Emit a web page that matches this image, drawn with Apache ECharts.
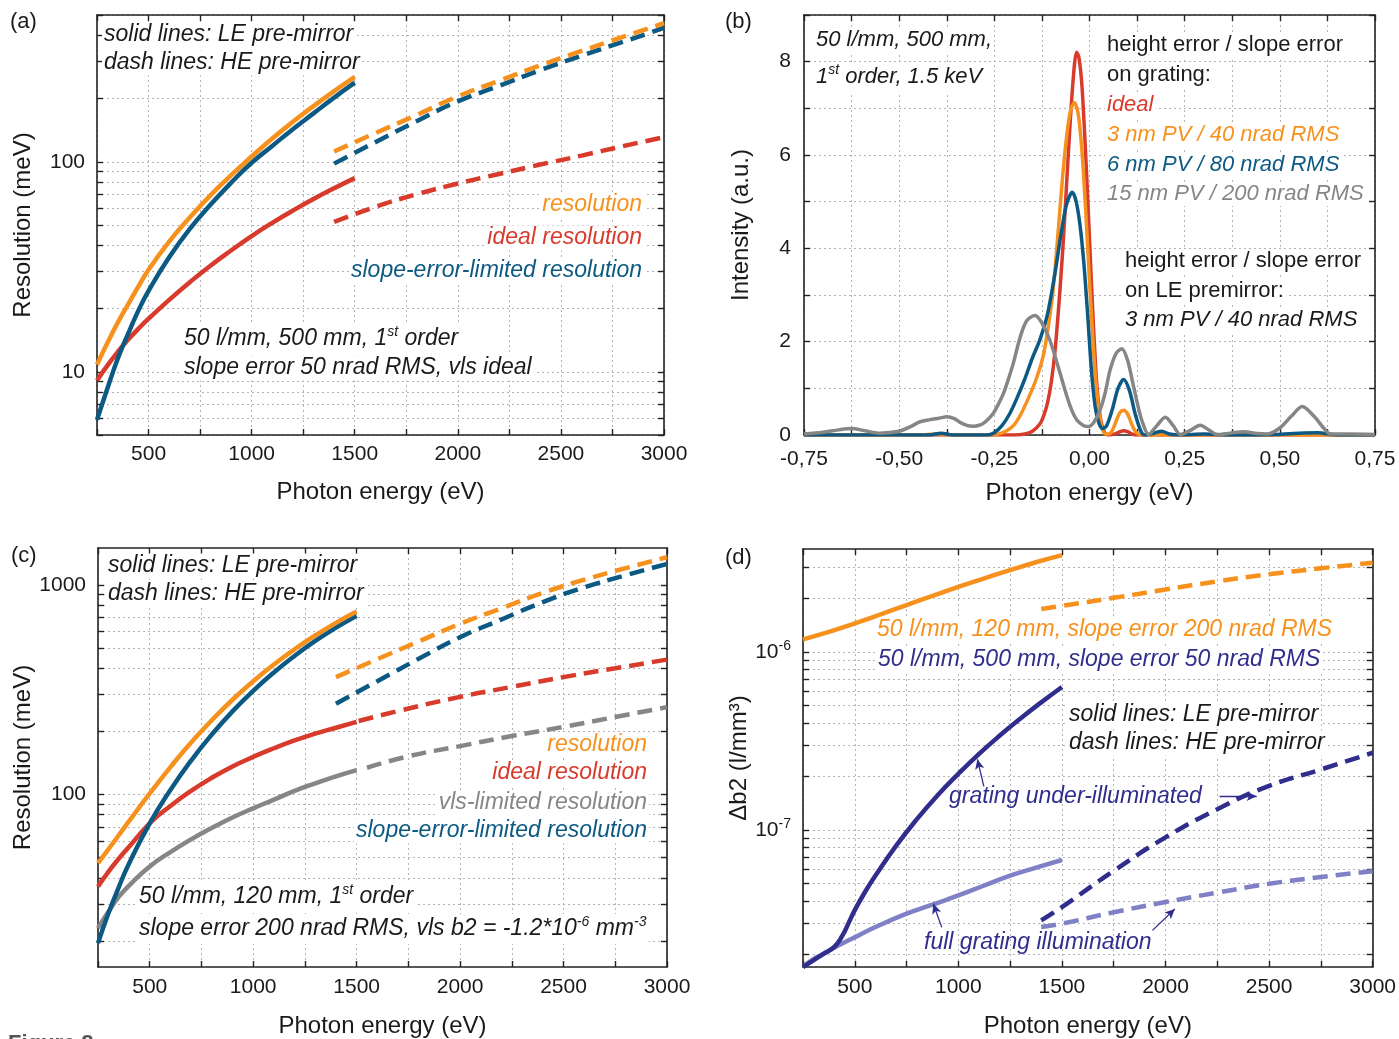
<!DOCTYPE html>
<html><head><meta charset="utf-8">
<script src="https://cdn.jsdelivr.net/npm/echarts@6/dist/echarts.min.js"></script>
<style>html,body{margin:0;padding:0;background:#fff}#c{width:1399px;height:1039px}</style>
</head><body><div id="c"></div>
<script>
// ---------------- DATA ----------------
// Panel (a): 50 l/mm, 500 mm
const aEnergyLE = [250,300,350,400,450,500,600,700,800,900,1000,1100,1200,1300,1400,1500];
const aResolutionLE = [10.8,13.7,17.1,20.9,25.4,30.6,41.7,54.3,69.2,86.1,106,129,155,184,217,254];
const aIdealLE = [9.1,10.7,12.4,14.2,16.0,17.9,22.0,26.7,32.0,37.8,44.3,51.2,58.6,66.5,74.8,83.6];
const aSlopeLE = [5.9,8.3,11.5,15.1,19.5,24.3,35.1,47.9,62.4,79.4,98.9,119,143,170,202,238];
const aEnergyHE = [1400,1600,1800,2000,2200,2400,2600,2800,3000];
const aResolutionHE = [112,137,167,205,243,288,337,393,457];
const aIdealHE = [51.7,61,70,78.8,87.5,97,107,118.6,131];
const aSlopeHE = [98,124,156,194,230,273,320,372,434];

// Panel (b): line profiles at 1.5 keV
const bIdealX = [-0.75,-0.2,-0.17,-0.15,-0.13,-0.12,-0.11,-0.1,-0.09,-0.08,-0.07,-0.06,-0.05,-0.04,-0.034,-0.028,-0.02,-0.01,0,0.01,0.02,0.03,0.04,0.05,0.065,0.08,0.09,0.1,0.115,0.13,0.75];
const bIdealY = [0,0,0.02,0.08,0.24,0.42,0.7,1.15,1.85,2.85,4.0,5.4,6.8,7.9,8.2,8.1,7.5,6.0,4.2,2.4,1.0,0.3,0.05,0,0.02,0.07,0.09,0.07,0.01,0,0];
const bErr3X = [-0.75,-0.45,-0.4,-0.36,-0.26,-0.24,-0.22,-0.2,-0.18,-0.16,-0.14,-0.12,-0.1,-0.09,-0.08,-0.07,-0.06,-0.05,-0.04,-0.03,-0.02,-0.01,0,0.01,0.02,0.03,0.04,0.05,0.06,0.07,0.08,0.09,0.1,0.11,0.12,0.13,0.14,0.75];
const bErr3Y = [0,0,0.02,0,0,0.02,0.08,0.2,0.45,0.8,1.2,1.75,2.8,3.6,4.6,5.6,6.4,6.95,7.12,6.9,6.1,4.8,3.3,1.9,0.85,0.25,0.03,0.02,0.1,0.3,0.48,0.53,0.45,0.25,0.08,0.01,0,0];
const bErr6X = [-0.75,-0.42,-0.39,-0.36,-0.27,-0.25,-0.23,-0.21,-0.19,-0.17,-0.15,-0.13,-0.11,-0.09,-0.075,-0.06,-0.045,-0.035,-0.025,-0.015,-0.005,0.005,0.015,0.025,0.035,0.045,0.06,0.075,0.09,0.105,0.12,0.135,0.145,0.165,0.19,0.21,0.24,0.3,0.36,0.45,0.55,0.6,0.65,0.75];
const bErr6Y = [0,0,0.04,0,0,0.05,0.2,0.45,0.8,1.2,1.65,2.05,2.6,3.5,4.3,4.95,5.2,5.0,4.5,3.7,2.6,1.4,0.6,0.25,0.14,0.2,0.55,1.0,1.19,0.95,0.45,0.08,0,0.03,0.08,0.02,0,0.02,0,0,0.04,0.05,0,0];
const bErr15X = [-0.75,-0.7,-0.66,-0.625,-0.59,-0.551,-0.5,-0.47,-0.446,-0.419,-0.395,-0.375,-0.355,-0.34,-0.32,-0.305,-0.29,-0.279,-0.265,-0.253,-0.24,-0.226,-0.213,-0.2,-0.182,-0.165,-0.143,-0.125,-0.104,-0.08,-0.059,-0.045,-0.033,-0.015,-0.003,0.012,0.028,0.041,0.054,0.07,0.085,0.1,0.116,0.128,0.138,0.155,0.175,0.199,0.22,0.239,0.265,0.291,0.315,0.335,0.37,0.405,0.44,0.467,0.5,0.53,0.559,0.59,0.615,0.633,0.68,0.75];
const bErr15Y = [0.02,0.06,0.11,0.14,0.09,0.04,0.08,0.18,0.28,0.33,0.36,0.39,0.35,0.27,0.2,0.19,0.21,0.25,0.35,0.46,0.65,0.89,1.2,1.54,2.1,2.45,2.56,2.4,2.03,1.4,0.82,0.5,0.32,0.2,0.18,0.28,0.54,0.9,1.39,1.75,1.85,1.6,1.03,0.6,0.3,0.01,0.18,0.38,0.2,0.01,0.1,0.21,0.1,0.01,0.04,0.07,0.03,0.02,0.15,0.4,0.61,0.4,0.15,0.02,0.02,0.01];

// Panel (c): 50 l/mm, 120 mm
const cEnergyLE = [250,300,350,400,500,600,700,800,900,1000,1100,1200,1300,1400,1500];
const cResolutionLE = [47,54.7,63.8,74.5,101,135,177,226,283,347,417,493,574,659,746];
const cIdealLE = [36.3,42.7,49.3,56.2,72.8,88.1,104,120,136,151,166,181,195,208,222];
const cVlsLE = [23,27.5,32.4,36.7,45.3,53,61,69.2,77.6,85.8,94.4,104,113,122,130.6];
const cSlopeLE = [19.5,27,36,46.8,72.8,105,145,193,249,312,382,458,540,625,713];
const cEnergyHE = [1400,1600,1800,2000,2200,2400,2600,2800,3000];
const cResolutionHE = [363,442,537,652,773,916,1059,1202,1355];
const cSlopeHE = [271,347,444,563,684,828,973,1112,1259];
const cEnergyIdealHE = [1510,1700,2000,2250,2500,2750,3000];
const cIdealHE = [224,250,292,326,363,400,440];
const cEnergyVlsHE = [1550,1750,2000,2250,2500,2750,3000];
const cVlsHE = [134,152,170,190,210,234,261];

// Panel (d): delta b2
const dEnergyOrangeLE = [250,375,500,625,750,875,1000,1125,1250,1375,1500];
const dOrangeLE = [1.18e-6,1.3e-6,1.45e-6,1.63e-6,1.84e-6,2.07e-6,2.33e-6,2.6e-6,2.89e-6,3.2e-6,3.51e-6];
const dEnergyUnderLE = [250,300,350,400,440,470,500,550,600,700,800,900,1000,1100,1200,1300,1400,1500];
const dUnderLE = [1.7e-8,1.85e-8,2.02e-8,2.2e-8,2.55e-8,3.0e-8,3.55e-8,4.5e-8,5.55e-8,8.17e-8,1.153e-7,1.57e-7,2.07e-7,2.68e-7,3.4e-7,4.24e-7,5.22e-7,6.37e-7];
const dEnergyFullLE = [250,300,350,400,500,600,750,875,1000,1125,1250,1375,1500];
const dFullLE = [1.7e-8,1.88e-8,2.02e-8,2.18e-8,2.5e-8,2.85e-8,3.39e-8,3.81e-8,4.29e-8,4.88e-8,5.55e-8,6.15e-8,6.79e-8];
const dEnergyHE = [1400,1500,1750,2000,2250,2500,2750,3000];
const dOrangeHE = [1.75e-6,1.82e-6,2.02e-6,2.25e-6,2.5e-6,2.74e-6,2.96e-6,3.18e-6];
const dUnderHE = [3.11e-8,3.69e-8,5.9e-8,9.1e-8,1.31e-7,1.77e-7,2.19e-7,2.72e-7];
const dFullHE = [2.85e-8,2.98e-8,3.45e-8,3.94e-8,4.45e-8,4.99e-8,5.45e-8,5.87e-8];
// annotation arrows in panel (d): [fromE, fromV, toE, toV]
const dArrows = [[1123,1.76e-7,1092,2.5e-7],[2261,1.55e-7,2440,1.55e-7],[920,2.84e-8,879,3.85e-8],[1937,2.73e-8,2045,3.6e-8]];

// ---------------- STYLE ----------------
const FONT = '"Liberation Sans", Arial, Helvetica, sans-serif';
const COL = {orange:'#f7911e', red:'#d83a2b', blue:'#0c5a83', gray:'#868686', indigo:'#302d8d', lilac:'#8080c6', ink:'#1a1a1a'};
const GRIDLINE = {show:true, lineStyle:{color:'#b4b4b4', type:[2,3], width:1}};
const AXLINE = {show:true, onZero:false, lineStyle:{color:'#222', width:1.6}};

const grids = [
  {left:97, top:15, width:567, height:420},
  {left:804, top:15, width:571, height:420},
  {left:98, top:548, width:569, height:419},
  {left:803, top:549, width:570, height:420}
];

function logGridValues(min, max) {
  const out = [];
  for (let p = Math.floor(Math.log10(min)); p <= Math.ceil(Math.log10(max)); p++) {
    for (let k = 1; k <= 9; k++) {
      const v = +(k * Math.pow(10, p)).toPrecision(6);
      if (v >= min * 0.9999 && v <= max * 1.0001) out.push(v);
    }
  }
  return out;
}
function majors(min, max) {
  return logGridValues(min, max).filter(v => Math.abs(Math.log10(v) - Math.round(Math.log10(v))) < 1e-9);
}

function xPair(gi, min, max, interval, fmt, margin, nameGap) {
  return [
    {type:'value', gridIndex:gi, min, max, interval, position:'bottom',
     name:'Photon energy (eV)', nameLocation:'middle', nameGap:nameGap,
     nameTextStyle:{fontSize:24, fontFamily:FONT, color:COL.ink},
     axisLine:AXLINE, axisTick:{show:true, inside:true, length:6, lineStyle:{color:'#222', width:1.4}},
     axisLabel:{formatter:fmt, fontSize:21, fontFamily:FONT, color:COL.ink, margin:margin, showMinLabel:true, showMaxLabel:true},
     splitLine:GRIDLINE},
    {type:'value', gridIndex:gi, min, max, interval, position:'top',
     axisLine:AXLINE, axisTick:{show:true, inside:true, length:6, lineStyle:{color:'#222', width:1.4}},
     axisLabel:{show:false}, splitLine:{show:false}}
  ];
}
function yLogPair(gi, min, max, name, nameGap, fmt, rich) {
  const gv = logGridValues(min, max);
  return [
    {type:'log', logBase:10, gridIndex:gi, min, max, position:'left',
     name, nameLocation:'middle', nameGap, nameRotate:90,
     nameTextStyle:{fontSize:24, fontFamily:FONT, color:COL.ink},
     axisLine:AXLINE, axisTick:{show:true, inside:true, length:6, customValues:gv, lineStyle:{color:'#222', width:1.4}},
     axisLabel:{customValues:majors(min, max), formatter:fmt, fontSize:21, fontFamily:FONT, color:COL.ink, margin:12, rich:rich},
     splitLine:GRIDLINE},
    {type:'log', logBase:10, gridIndex:gi, min, max, position:'right',
     axisLine:AXLINE, axisTick:{show:true, inside:true, length:6, customValues:gv, lineStyle:{color:'#222', width:1.4}},
     axisLabel:{show:false}, splitLine:{show:false}}
  ];
}

const fmtEnergy = v => (v % 500 === 0 ? String(v) : '');
const fmtShift = v => { const q = v * 4; return Math.abs(q - Math.round(q)) < 1e-6 ? v.toFixed(2).replace('.', ',') : ''; };
const fmtInt = v => String(Math.round(v));
const fmtPow = v => '{b|10}{s|' + Math.round(Math.log10(v)) + '}';

const xAxes = [].concat(
  xPair(0, 250, 3000, 250, fmtEnergy, 9, 45),
  xPair(1, -0.75, 0.75, 0.125, fmtShift, 14, 46),
  xPair(2, 250, 3000, 250, fmtEnergy, 10, 47),
  xPair(3, 250, 3000, 250, fmtEnergy, 10, 47)
);
const yAxes = [].concat(
  yLogPair(0, 5, 500, 'Resolution (meV)', 62, fmtInt),
  [
    {type:'value', gridIndex:1, min:0, max:9, interval:1, position:'left',
     name:'Intensity (a.u.)', nameLocation:'middle', nameGap:51, nameRotate:90,
     nameTextStyle:{fontSize:24, fontFamily:FONT, color:COL.ink},
     axisLine:AXLINE, axisTick:{show:true, inside:true, length:6, lineStyle:{color:'#222', width:1.4}},
     axisLabel:{formatter:v => (v % 2 === 0 ? String(v) : ''), fontSize:21, fontFamily:FONT, color:COL.ink, margin:13},
     splitLine:GRIDLINE},
    {type:'value', gridIndex:1, min:0, max:9, interval:1, position:'right',
     axisLine:AXLINE, axisTick:{show:true, inside:true, length:6, lineStyle:{color:'#222', width:1.4}},
     axisLabel:{show:false}, splitLine:{show:false}}
  ],
  yLogPair(2, 15, 1500, 'Resolution (meV)', 63, fmtInt),
  yLogPair(3, 1.7e-8, 3.8e-6, 'Δb2 (l/mm³)', 49, fmtPow, {
    b:{fontSize:21, fontFamily:FONT, color:COL.ink, lineHeight:26, verticalAlign:'middle'},
    s:{fontSize:14, fontFamily:FONT, color:COL.ink, lineHeight:14, verticalAlign:'top'}
  })
);

function curve(xs, ys, color, dashed, panel, width, smooth) {
  return {type:'line', xAxisIndex:panel*2, yAxisIndex:panel*2,
    data:xs.map((x, i) => [x, ys[i]]), showSymbol:false, symbol:'none',
    smooth:(smooth == null ? 0.5 : smooth), silent:true, z:3,
    lineStyle:{color, width:(width || 4.5), type:(dashed ? [15, 8] : 'solid'), cap:'butt'}};
}

const series = [
  // (a)
  curve(aEnergyLE, aIdealLE, COL.red, false, 0),
  curve(aEnergyLE, aSlopeLE, COL.blue, false, 0),
  curve(aEnergyLE, aResolutionLE, COL.orange, false, 0),
  curve(aEnergyHE, aIdealHE, COL.red, true, 0),
  curve(aEnergyHE, aSlopeHE, COL.blue, true, 0),
  curve(aEnergyHE, aResolutionHE, COL.orange, true, 0),
  // (b)
  curve(bIdealX, bIdealY, COL.red, false, 1, 3.5, 0.3),
  curve(bErr3X, bErr3Y, COL.orange, false, 1, 3.5, 0.3),
  curve(bErr6X, bErr6Y, COL.blue, false, 1, 3.5, 0.3),
  curve(bErr15X, bErr15Y, COL.gray, false, 1, 3.5, 0.3),
  // (c)
  curve(cEnergyLE, cVlsLE, COL.gray, false, 2),
  curve(cEnergyLE, cIdealLE, COL.red, false, 2),
  curve(cEnergyLE, cSlopeLE, COL.blue, false, 2),
  curve(cEnergyLE, cResolutionLE, COL.orange, false, 2),
  curve(cEnergyVlsHE, cVlsHE, COL.gray, true, 2),
  curve(cEnergyIdealHE, cIdealHE, COL.red, true, 2),
  curve(cEnergyHE, cSlopeHE, COL.blue, true, 2),
  curve(cEnergyHE, cResolutionHE, COL.orange, true, 2),
  // (d)
  curve(dEnergyOrangeLE, dOrangeLE, COL.orange, false, 3),
  curve(dEnergyHE, dOrangeHE, COL.orange, true, 3),
  curve(dEnergyFullLE, dFullLE, COL.lilac, false, 3),
  curve(dEnergyUnderLE, dUnderLE, COL.indigo, false, 3),
  curve(dEnergyHE, dFullHE, COL.lilac, true, 3),
  curve(dEnergyHE, dUnderHE, COL.indigo, true, 3),
  {type:'line', xAxisIndex:6, yAxisIndex:6, data:[], silent:true, z:4,
   markLine:{silent:true, symbol:['none','arrow'], symbolSize:[7,10], label:{show:false},
     lineStyle:{color:COL.indigo, width:1.3, type:'solid'}, emphasis:{disabled:true},
     data:dArrows.map(a => [{coord:[a[0], a[1]]}, {coord:[a[2], a[3]]}])}}
];

// ---------------- TEXT ----------------
function F(size, italic) { return (italic ? 'italic ' : '') + size + 'px ' + FONT; }
function txt(x, y, text, color, size, italic, align, rich, bg) {
  const st = {text, fill:color, font:F(size, italic), align:align || 'left', verticalAlign:'middle'};
  if (bg !== false) { st.backgroundColor = '#fff'; st.padding = [1, 2, 1, 2]; }
  if (rich) st.rich = rich;
  return {type:'text', x:(align === 'right' ? x + 2 : x - 2), y, z:1, silent:true, style:st};
}
function supRich(size, color, italic) {
  return {
    n:{font:F(size, italic), fill:color, lineHeight:28, verticalAlign:'middle'},
    s:{font:F(Math.round(size * 0.62), italic), fill:color, lineHeight:15, verticalAlign:'top'}
  };
}
const I = true, U = false;
const graphics = [
  // panel labels
  txt(12, 22, '(a)', COL.ink, 22, U, 'left', null, false),
  txt(727, 22, '(b)', COL.ink, 22, U, 'left', null, false),
  txt(13, 556, '(c)', COL.ink, 22, U, 'left', null, false),
  txt(727, 558, '(d)', COL.ink, 22, U, 'left', null, false),
  // (a)
  txt(104, 35, 'solid lines: LE pre-mirror', COL.ink, 23, I),
  txt(104, 63, 'dash lines: HE pre-mirror', COL.ink, 23, I),
  txt(642, 205, 'resolution', COL.orange, 23, I, 'right'),
  txt(642, 238, 'ideal resolution', COL.red, 23, I, 'right'),
  txt(642, 271, 'slope-error-limited resolution', COL.blue, 23, I, 'right'),
  txt(184, 339, '{n|50 l/mm, 500 mm, 1}{s|st}{n| order}', COL.ink, 23, I, 'left', supRich(23, COL.ink, true)),
  txt(184, 368, 'slope error 50 nrad RMS, vls ideal', COL.ink, 23, I),
  // (b)
  txt(816, 40, '50 l/mm, 500 mm,', COL.ink, 22, I),
  txt(816, 77, '{n|1}{s|st}{n| order, 1.5 keV}', COL.ink, 22, I, 'left', supRich(22, COL.ink, true)),
  txt(1107, 45, 'height error / slope error', COL.ink, 22, U),
  txt(1107, 75, 'on grating:', COL.ink, 22, U),
  txt(1107, 105, 'ideal', COL.red, 22, I),
  txt(1107, 135, '3 nm PV / 40 nrad RMS', COL.orange, 22, I),
  txt(1107, 165, '6 nm PV / 80 nrad RMS', COL.blue, 22, I),
  txt(1107, 194, '15 nm PV / 200 nrad RMS', COL.gray, 22, I),
  txt(1125, 261, 'height error / slope error', COL.ink, 22, U),
  txt(1125, 291, 'on LE premirror:', COL.ink, 22, U),
  txt(1125, 320, '3 nm PV / 40 nrad RMS', COL.ink, 22, I),
  // (c)
  txt(108, 566, 'solid lines: LE pre-mirror', COL.ink, 23, I),
  txt(108, 594, 'dash lines: HE pre-mirror', COL.ink, 23, I),
  txt(647, 745, 'resolution', COL.orange, 23, I, 'right'),
  txt(647, 773, 'ideal resolution', COL.red, 23, I, 'right'),
  txt(647, 803, 'vls-limited resolution', COL.gray, 23, I, 'right'),
  txt(647, 831, 'slope-error-limited resolution', COL.blue, 23, I, 'right'),
  txt(139, 897, '{n|50 l/mm, 120 mm, 1}{s|st}{n| order}', COL.ink, 23, I, 'left', supRich(23, COL.ink, true)),
  txt(139, 929, '{n|slope error 200 nrad RMS, vls b2 = -1.2*10}{s|-6}{n| mm}{s|-3}', COL.ink, 23, I, 'left', supRich(23, COL.ink, true)),
  // (d)
  txt(877, 630, '50 l/mm, 120 mm, slope error 200 nrad RMS', COL.orange, 23, I),
  txt(878, 660, '50 l/mm, 500 mm, slope error 50 nrad RMS', COL.indigo, 23, I),
  txt(1069, 715, 'solid lines: LE pre-mirror', COL.ink, 23, I),
  txt(1069, 743, 'dash lines: HE pre-mirror', COL.ink, 23, I),
  txt(951, 797, 'grating under-illuminated', COL.indigo, 23, I, 'left', null, false),
  txt(926, 943, 'full grating illumination', COL.indigo, 23, I, 'left', null, false),
  // cut-off caption
  {type:'text', x:8, y:1033, z:1, silent:true, style:{text:'Figure 8', fill:'#555', font:'bold 22px ' + FONT, align:'left', verticalAlign:'top'}}
];

const chart = echarts.init(document.getElementById('c'), null, {renderer:'canvas'});
chart.setOption({
  animation:false,
  backgroundColor:'#fff',
  textStyle:{fontFamily:FONT},
  grid:grids,
  xAxis:xAxes,
  yAxis:yAxes,
  series:series,
  graphic:graphics
});
</script></body></html>
